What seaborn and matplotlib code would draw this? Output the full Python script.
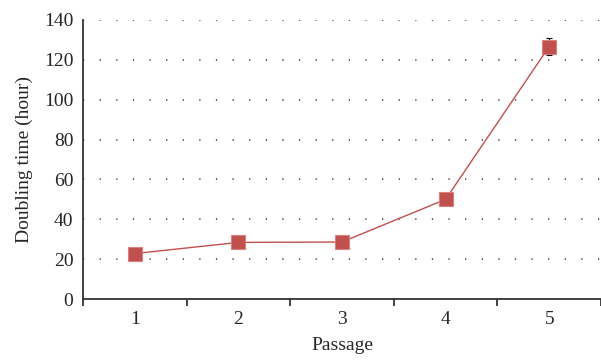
import matplotlib
matplotlib.use("Agg")
import matplotlib.pyplot as plt
import seaborn as sns
import pandas as pd

# Doubling time per passage
passages = [1, 2, 3, 4, 5]
doubling_time = [22.8, 28.4, 28.6, 50.0, 126.7]
errors = [0.8, 0.8, 0.8, 0.8, 4.2]
y_ticks = [0, 20, 40, 60, 80, 100, 120, 140]

sns.set_style("white")
plt.rcParams["font.family"] = ["Liberation Serif", "DejaVu Serif"]

color = "#C0504D"
df = pd.DataFrame({"Passage": passages, "Doubling time (hour)": doubling_time})

fig = plt.figure(figsize=(6.01, 3.63), dpi=100)
ax = fig.add_axes([83 / 601, 64 / 363, 518 / 601, 279 / 363])

# dotted horizontal guides
for yv in y_ticks[1:]:
    ax.axhline(yv, color="#555555", lw=1.3, linestyle=(0, (0.7, 8.5)), zorder=0)

sns.lineplot(data=df, x="Passage", y="Doubling time (hour)", ax=ax,
             color=color, lw=1.0, marker="s", markersize=10,
             markerfacecolor=color, markeredgecolor="#D9807E", markeredgewidth=0.8,
             zorder=3)
ax.errorbar(passages, doubling_time, yerr=errors, fmt="none",
            ecolor="black", elinewidth=0.8, capsize=2, capthick=0.8, zorder=2)

# each passage occupies a band of ~105 px; the axis runs off the right edge
ax.set_xlim(0.5, 0.5 + 518 / 105.1)
ax.set_ylim(0, 140)
ax.set_yticks(y_ticks)
ax.set_xticks(passages)
ax.set_xticks([0.5, 1.5, 2.5, 3.5, 4.5, 5.5], minor=True)
ax.tick_params(axis="x", which="major", length=0, labelsize=14, pad=9)
ax.tick_params(axis="x", which="minor", length=5, width=1.2, color="#222222",
               direction="out", bottom=True)
ax.tick_params(axis="y", length=5, width=1.2, color="#222222", direction="out",
               labelsize=14, pad=2)

for side in ["top", "right"]:
    ax.spines[side].set_visible(False)
for side in ["left", "bottom"]:
    ax.spines[side].set_color("#333333")
    ax.spines[side].set_linewidth(1.3)

ax.set_xlabel("Passage", fontsize=14, labelpad=6)
ax.set_ylabel("Doubling time (hour)", fontsize=14, labelpad=8)

fig.savefig("out.png", dpi=100)
